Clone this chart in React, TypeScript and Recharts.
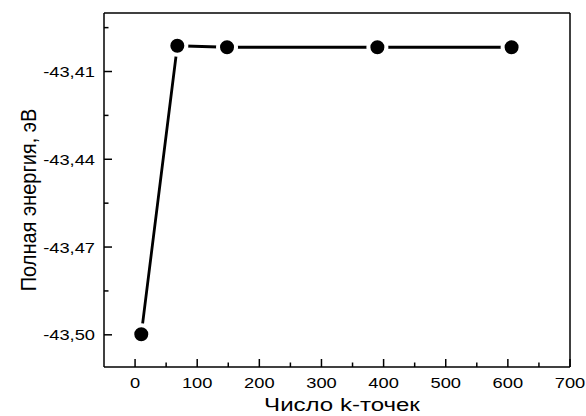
import { Line, LineChart, XAxis, YAxis } from 'recharts';

const kPoints = [10, 68, 148, 390, 606];
const energy = [-43.4998, -43.4012, -43.4017, -43.4017, -43.4017];

const xTicks = [0, 50, 100, 150, 200, 250, 300, 350, 400, 450, 500, 550, 600, 650, 700];
const xMajor = [0, 100, 200, 300, 400, 500, 600, 700];
const yTicks = [-43.5, -43.485, -43.47, -43.455, -43.44, -43.425, -43.41, -43.395];
const yMajor = [-43.5, -43.47, -43.44, -43.41];

const xDomain: [number, number] = [-50, 700];
const yDomain: [number, number] = [-43.511, -43.39];

const chartData = kPoints.map((k, i) => ({ k, e: energy[i] }));

const FONT = 'Arial, "Liberation Sans", sans-serif';
const STRETCH = 1.22;

const isMajor = (list: number[], v: number) => list.some((m) => Math.abs(m - v) < 1e-6);

function XTick({ x, y, payload }: any) {
  const major = isMajor(xMajor, payload.value);
  return (
    <g>
      <line x1={x} x2={x} y1={y} y2={y - (major ? 8 : 4.5)} stroke="#000" strokeWidth={1.5} />
      {major && (
        <text
          transform={`translate(${x},${y + 21}) scale(${STRETCH},1)`}
          textAnchor="middle"
          fontSize={15}
          fontFamily={FONT}
          fill="#000"
        >
          {payload.value}
        </text>
      )}
    </g>
  );
}

function YTick({ x, y, payload }: any) {
  const major = isMajor(yMajor, payload.value);
  return (
    <g>
      <line x1={x} x2={x + (major ? 8 : 4.5)} y1={y} y2={y} stroke="#000" strokeWidth={1.5} />
      {major && (
        <text
          transform={`translate(${x - 9},${y + 5.5}) scale(${STRETCH},1)`}
          textAnchor="end"
          fontSize={15}
          fontFamily={FONT}
          fill="#000"
        >
          {payload.value.toFixed(2).replace('.', ',')}
        </text>
      )}
    </g>
  );
}

function Marker({ cx, cy }: any) {
  if (cx == null || cy == null) return null;
  return <circle cx={cx} cy={cy} r={9} fill="#000" stroke="#fff" strokeWidth={4} />;
}

function XTitle({ viewBox }: any) {
  const cx = viewBox.x + viewBox.width / 2 + 5;
  return (
    <text
      transform={`translate(${cx},${367 + 44}) scale(1.3,1)`}
      textAnchor="middle"
      fontSize={18.5}
      fontFamily={FONT}
      fill="#000"
    >
      Число k-точек
    </text>
  );
}

function YTitle({ viewBox }: any) {
  const cy = viewBox.y + viewBox.height / 2 + 10;
  return (
    <text
      transform={`translate(36,${cy}) scale(1.12,1) rotate(-90)`}
      textAnchor="middle"
      fontSize={20}
      fontFamily={FONT}
      fill="#000"
    >
      Полная энергия, эВ
    </text>
  );
}

export default function App() {
  const frame = { stroke: '#000', strokeWidth: 1.5 };
  return (
    <div style={{ position: 'absolute', left: 0, top: 0, background: '#fff' }}>
      <LineChart width={586} height={416} data={chartData} margin={{ top: 12, right: 15, bottom: 48, left: 103 }}>
        <XAxis
          dataKey="k"
          type="number"
          domain={xDomain}
          ticks={xTicks}
          interval={0}
          allowDataOverflow
          height={1}
          tickSize={0}
          tickMargin={0}
          tickLine={false}
          axisLine={frame}
          tick={<XTick />}
          label={<XTitle />}
        />
        <XAxis
          xAxisId="top"
          orientation="top"
          dataKey="k"
          type="number"
          domain={xDomain}
          allowDataOverflow
          height={1}
          tick={false}
          tickLine={false}
          axisLine={frame}
        />
        <YAxis
          type="number"
          domain={yDomain}
          ticks={yTicks}
          interval={0}
          allowDataOverflow
          width={1}
          tickSize={0}
          tickMargin={0}
          tickLine={false}
          axisLine={frame}
          tick={<YTick />}
          label={<YTitle />}
        />
        <YAxis
          yAxisId="right"
          orientation="right"
          type="number"
          domain={yDomain}
          allowDataOverflow
          width={1}
          tick={false}
          tickLine={false}
          axisLine={frame}
        />
        <Line
          dataKey="e"
          stroke="#000"
          strokeWidth={2.8}
          dot={<Marker />}
          activeDot={false}
          isAnimationActive={false}
        />
      </LineChart>
    </div>
  );
}
